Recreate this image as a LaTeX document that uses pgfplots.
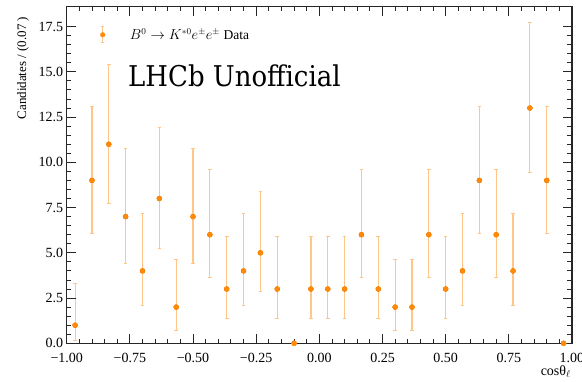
\documentclass[border=0pt]{standalone}
\usepackage{fontspec}
\setmainfont{Liberation Serif}
\newfontfamily\lhcbfont{DejaVu Serif}
\usepackage{pgfplots}
\usepackage{pgfplotstable}
\pgfplotsset{compat=1.18}

\definecolor{mk}{HTML}{FF8A0A}
\definecolor{eb}{HTML}{FFC689}

% Legend symbol: a data point with its error bar
\pgfplotsset{
  errlegend/.style={
    legend image code/.code={%
      \path[draw=none] (-12.7pt,0pt) -- (25.3pt,0pt);
      \draw[eb, line width=1.2pt] (0pt,-7.7pt) -- (0pt,8pt);
      \draw[eb, line width=1pt] (-1.8pt,-7.7pt) -- (1.8pt,-7.7pt)
                                (-1.8pt,8pt) -- (1.8pt,8pt);
      \fill[mk] (0pt,0pt) circle (2.3pt);
    }
  }
}

% Counts per bin of cos(theta_l) with 68% Poisson (Garwood) intervals
\pgfplotstableread{
x        y   ep     em
-0.9667  1   2.300  0.827
-0.9000  9   4.110  2.943
-0.8333  11  4.416  3.266
-0.7667  7   3.770  2.581
-0.7000  4   3.163  1.914
-0.6333  8   3.945  2.768
-0.5667  2   2.638  1.292
-0.5000  7   3.770  2.581
-0.4333  6   3.584  2.380
-0.3667  3   2.918  1.633
-0.3000  4   3.163  1.914
-0.2333  5   3.382  2.160
-0.1667  3   2.918  1.633
-0.0333  3   2.918  1.633
 0.0333  3   2.918  1.633
 0.1000  3   2.918  1.633
 0.1667  6   3.584  2.380
 0.2333  3   2.918  1.633
 0.3000  2   2.638  1.292
 0.3667  2   2.638  1.292
 0.4333  6   3.584  2.380
 0.5000  3   2.918  1.633
 0.5667  4   3.163  1.914
 0.6333  9   4.110  2.943
 0.7000  6   3.584  2.380
 0.7667  4   3.163  1.914
 0.8333  13  4.700  3.559
 0.9000  9   4.110  2.943
}\bins

% All bin contents, including the empty ones
\pgfplotstableread{
x        y
-0.9667  1
-0.9000  9
-0.8333  11
-0.7667  7
-0.7000  4
-0.6333  8
-0.5667  2
-0.5000  7
-0.4333  6
-0.3667  3
-0.3000  4
-0.2333  5
-0.1667  3
-0.1000  0
-0.0333  3
 0.0333  3
 0.1000  3
 0.1667  6
 0.2333  3
 0.3000  2
 0.3667  2
 0.4333  6
 0.5000  3
 0.5667  4
 0.6333  9
 0.7000  6
 0.7667  4
 0.8333  13
 0.9000  9
 0.9667  0
}\allbins

\begin{document}
\begin{tikzpicture}
\path[use as bounding box] (-66.7pt,-37.7pt) rectangle (515.3pt,343.3pt);
\begin{axis}[
  at={(0pt,0pt)}, anchor=south west,
  width=505.3pt, height=336.6pt, scale only axis,
  xmin=-1, xmax=1, ymin=0, ymax=18.6,
  xtick={-1,-0.75,-0.5,-0.25,0,0.25,0.5,0.75,1},
  xticklabels={\textrm{−1.00},\textrm{−0.75},\textrm{−0.50},\textrm{−0.25},
    \textrm{0.00},\textrm{0.25},\textrm{0.50},\textrm{0.75},\textrm{1.00}},
  ytick={0,2.5,5,7.5,10,12.5,15,17.5},
  yticklabels={\textrm{0.0},\textrm{2.5},\textrm{5.0},\textrm{7.5},
    \textrm{10.0},\textrm{12.5},\textrm{15.0},\textrm{17.5}},
  minor x tick num=4, minor y tick num=4,
  tick align=inside, tick pos=both,
  major tick length=9pt, minor tick length=4.5pt,
  every tick/.style={black!85, line width=0.9pt},
  axis line style={black!85, line width=1.1pt},
  axis on top,
  ticklabel style={font=\fontsize{14}{16}\selectfont},
  xticklabel style={anchor=base, yshift=-19.4pt},
  xlabel={cosθ$_{\ell}$},
  xlabel style={at={(axis description cs:0.998,-0.0963)}, anchor=base east,
    inner sep=0pt, font=\fontsize{14}{16}\selectfont},
  ylabel={Candidates / (0.07 )},
  ylabel style={at={(axis description cs:-0.0805,0.9703)}, anchor=base east,
    inner sep=0pt, font=\fontsize{13}{15}\selectfont},
  errlegend,
  legend style={at={(axis description cs:0.0461,0.917)}, anchor=west,
    draw=none, fill=none, inner sep=0pt, outer sep=0pt,
    font=\fontsize{13.5}{15}\selectfont},
  legend cell align=left,
]
\addplot[only marks, mark=*, mark size=2.5pt, mark options={fill=mk, draw=mk}]
  table[x=x, y=y]{\allbins};
\addlegendentry{$B^0\rightarrow K^{*0}e^{\pm}e^{\pm}$ Data}
\addplot[only marks, mark=none, forget plot,
  error bars/.cd, y dir=both, y explicit,
  error bar style={draw=eb, line width=1.2pt},
  error mark options={draw=eb, line width=1pt, mark size=1.8pt, rotate=90}]
  table[x=x, y=y, y error plus=ep, y error minus=em]{\bins};
\addplot[only marks, mark=*, mark size=2.5pt, mark options={fill=mk, draw=mk},
  forget plot]
  table[x=x, y=y]{\allbins};
\node[anchor=base west, inner sep=0pt, yscale=1.1,
  font=\lhcbfont\fontsize{26}{30}\selectfont]
  at (rel axis cs:0.1213,0.7615) {LHCb Unofficial};
\end{axis}
\end{tikzpicture}
\end{document}
